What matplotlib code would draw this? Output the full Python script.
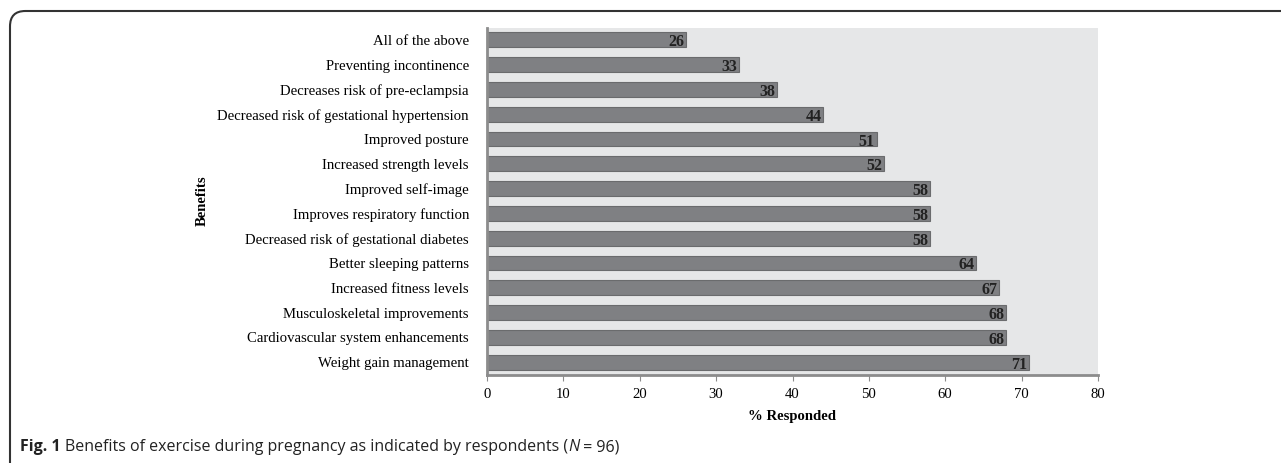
import matplotlib
matplotlib.use('Agg')
import matplotlib.pyplot as plt
from matplotlib.patches import FancyBboxPatch

benefits = ['All of the above', 'Preventing incontinence', 'Decreases risk of pre-eclampsia',
            'Decreased risk of gestational hypertension', 'Improved posture',
            'Increased strength levels', 'Improved self-image', 'Improves respiratory function',
            'Decreased risk of gestational diabetes', 'Better sleeping patterns',
            'Increased fitness levels', 'Musculoskeletal improvements',
            'Cardiovascular system enhancements', 'Weight gain management']
responded = [26, 33, 38, 44, 51, 52, 58, 58, 58, 64, 67, 68, 68, 71]
xticks = [0, 10, 20, 30, 40, 50, 60, 70, 80]

W, H = 1281, 463
fig = plt.figure(figsize=(W / 100, H / 100), dpi=100)
plt.rcParams['font.family'] = 'Liberation Serif'

# rounded frame around the figure
frame = FancyBboxPatch((10 / W, -0.2), 1.2, 1 - 11 / H + 0.2, boxstyle='round,pad=0,rounding_size=0.012',
                       transform=fig.transFigure, facecolor='none', edgecolor='#333333', linewidth=1.5,
                       mutation_aspect=W / H)
fig.patches.append(frame)

ax = fig.add_axes([487 / W, 1 - 374.5 / H, (1098 - 487) / W, (374.5 - 27.5) / H])
ax.set_facecolor('#e6e7e8')
y = list(range(len(benefits)))
ax.barh(y, responded, height=0.6, color='#7f8083', edgecolor='#6a6b6d', linewidth=0.8)
ax.set_ylim(13.5, -0.5)
ax.set_xlim(0, 80)
ax.set_yticks(y)
ax.set_yticklabels(benefits, fontsize=10.6)
ax.set_xticks(xticks)
ax.set_xticklabels([str(t) for t in xticks], fontsize=10.6)
ax.tick_params(axis='y', length=0, pad=13)
ax.tick_params(axis='x', length=4, color='#8c8c8c', pad=6)
for s in ['top', 'right']:
    ax.spines[s].set_visible(False)
for s in ['left', 'bottom']:
    ax.spines[s].set_color('#8c8c8c')
    ax.spines[s].set_linewidth(2)

for i, v in enumerate(responded):
    ax.text(v - 0.2, i + 0.1, str(v), ha='right', va='center', fontsize=11.5, fontweight='bold',
            color='#222222')

ax.set_xlabel('% Responded', fontsize=10.6, fontweight='bold', labelpad=6)
fig.text(202 / W, 1 - 201 / H, 'Benefits', rotation=90, fontsize=10.6, fontweight='bold',
         ha='center', va='center')

# caption, pieced together so that N is in italics
renderer = fig.canvas.get_renderer()
cy = 1 - 447 / H
x = 20 / W
parts = [('Fig. 1 ', 'bold', 'normal'),
         ('Benefits of exercise during pregnancy as indicated by respondents (', 'normal', 'normal'),
         ('N', 'normal', 'italic'),
         (' = 96)', 'normal', 'normal')]
for txt, weight, style in parts:
    t = fig.text(x, cy, txt, fontsize=11.5, fontweight=weight, fontstyle=style, family='Open Sans',
                 ha='left', va='center', color='#222222')
    bb = t.get_window_extent(renderer)
    x += bb.width / W

fig.savefig('out.png', dpi=100)
